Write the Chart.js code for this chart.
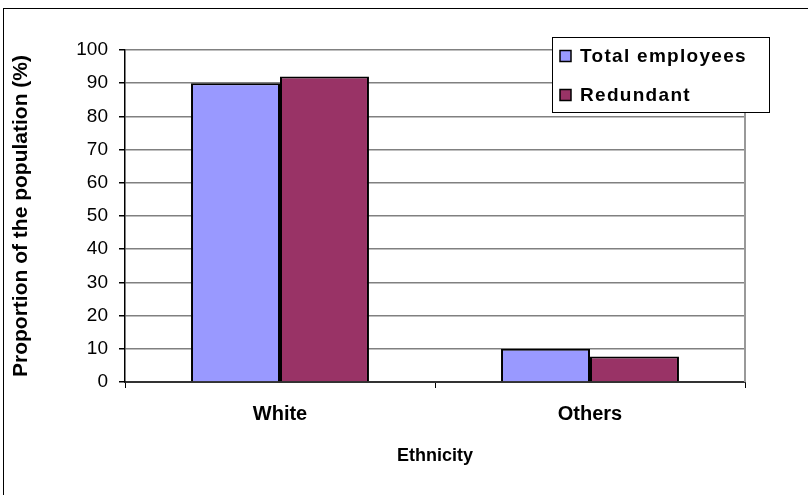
<!DOCTYPE html>
<html>
<head>
<meta charset="utf-8">
<title>Ethnicity</title>
<script src="https://cdn.jsdelivr.net/npm/chart.js@4"></script>
<style>
  html, body { margin: 0; padding: 0; background: #fff; }
  canvas { display: block; }
</style>
</head>
<body>
<canvas id="chart" width="808" height="495"></canvas>
<script>
const categories = ["White", "Others"];
const totalEmployees = [90, 10];
const redundant = [92, 7.7];
const seriesNames = ["Total employees", "Redundant"];
const seriesColors = ["#9999ff", "#993366"];

const FONT = "'Liberation Sans', Arial, sans-serif";

// white page plus the outer frame of the chart object
const framePlugin = {
  id: "frame",
  beforeDraw(chart) {
    const ctx = chart.ctx;
    ctx.save();
    ctx.fillStyle = "#fff";
    ctx.fillRect(0, 0, chart.width, chart.height);
    ctx.strokeStyle = "#000";
    ctx.lineWidth = 1;
    ctx.strokeRect(3.5, 8.5, chart.width + 20, chart.height + 20);
    ctx.restore();
  },
  afterDraw(chart) {
    // grey plot-area border on the right
    const { ctx, chartArea } = chart;
    ctx.save();
    ctx.strokeStyle = "#999";
    ctx.lineWidth = 2;
    ctx.beginPath();
    ctx.moveTo(chartArea.right, chartArea.top);
    ctx.lineTo(chartArea.right, chartArea.bottom);
    ctx.stroke();
    ctx.restore();
  }
};

// boxed legend sitting over the top right of the plot
const boxLegend = {
  id: "boxLegend",
  afterDraw(chart) {
    const ctx = chart.ctx;
    const x = 552.5, y = 37.5, w = 217, h = 75;
    ctx.save();
    ctx.fillStyle = "#fff";
    ctx.fillRect(x, y, w, h);
    ctx.strokeStyle = "#000";
    ctx.lineWidth = 1;
    ctx.strokeRect(x, y, w, h);
    ctx.font = "bold 19px " + FONT;
    ctx.letterSpacing = "1.3px";
    ctx.textBaseline = "middle";
    chart.data.datasets.forEach((ds, i) => {
      const cy = 56 + i * 39;
      ctx.fillStyle = ds.backgroundColor;
      ctx.fillRect(560, cy - 5.5, 11, 11);
      ctx.strokeStyle = "#000";
      ctx.lineWidth = 1.5;
      ctx.strokeRect(560, cy - 5.5, 11, 11);
      ctx.fillStyle = "#000";
      ctx.fillText(ds.label, 580, cy + 1);
    });
    ctx.restore();
  }
};

new Chart(document.getElementById("chart"), {
  type: "bar",
  data: {
    labels: categories,
    datasets: [
      { label: seriesNames[0], data: totalEmployees, backgroundColor: seriesColors[0] },
      { label: seriesNames[1], data: redundant, backgroundColor: seriesColors[1] }
    ]
  },
  options: {
    responsive: false,
    animation: false,
    devicePixelRatio: 1,
    layout: { padding: { top: 50, right: 63, left: 0, bottom: 0 } },
    datasets: {
      bar: {
        borderColor: "#000",
        borderWidth: 2,
        categoryPercentage: 0.574,
        barPercentage: 1
      }
    },
    plugins: {
      legend: { display: false },
      tooltip: { enabled: false }
    },
    scales: {
      x: {
        afterFit(scale) { scale.height = 113; },
        grid: { offset: true, drawOnChartArea: false, drawTicks: true, tickLength: 6, color: "#000" },
        border: { color: "#333", width: 2 },
        ticks: { color: "#000", padding: 14, font: { family: FONT, size: 20, weight: "bold" } },
        title: {
          display: true,
          text: "Ethnicity",
          color: "#000",
          font: { family: FONT, size: 18, weight: "bold" },
          padding: { top: 0, bottom: 28 }
        }
      },
      y: {
        min: 0,
        max: 100,
        afterFit(scale) { scale.width = 125; },
        grid: { color: "#808080", lineWidth: 1.5, tickColor: "#000", tickLength: 6 },
        border: { color: "#000", width: 1.5 },
        ticks: { stepSize: 10, color: "#000", padding: 11, font: { family: FONT, size: 19 } },
        title: {
          display: true,
          text: "Proportion of the population (%)",
          color: "#000",
          font: { family: FONT, size: 21, weight: "bold" },
          padding: { top: 9, bottom: 0 }
        }
      }
    }
  },
  plugins: [framePlugin, boxLegend]
});
</script>
</body>
</html>
